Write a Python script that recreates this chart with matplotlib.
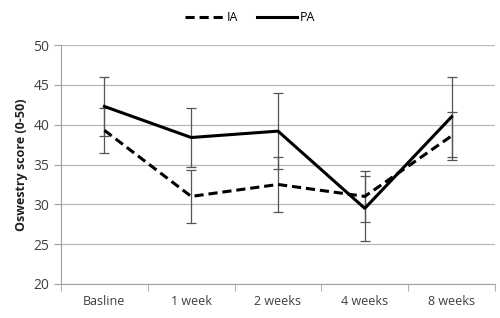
import matplotlib

matplotlib.use("Agg")
import matplotlib.pyplot as plt
import numpy as np

categories = ["Basline", "1 week", "2 weeks", "4 weeks", "8 weeks"]
ia_values = [39.3, 31.0, 32.5, 31.0, 38.6]
ia_errors = [2.8, 3.3, 3.5, 3.2, 3.0]
pa_values = [42.3, 38.4, 39.2, 29.5, 41.0]
pa_errors = [3.7, 3.7, 4.8, 4.1, 5.0]

plt.rcParams["font.family"] = ["Open Sans", "DejaVu Sans"]

positions = np.arange(len(categories))

figure = plt.figure(figsize=(5.0, 3.18), dpi=100)
axis = figure.add_axes([0.122, 0.107, 0.868, 0.751])

axis.errorbar(positions, ia_values, yerr=ia_errors, fmt="none",
              ecolor="#555555", elinewidth=0.9, capsize=3.5, capthick=0.9, zorder=2)
axis.errorbar(positions, pa_values, yerr=pa_errors, fmt="none",
              ecolor="#555555", elinewidth=0.9, capsize=3.5, capthick=0.9, zorder=2)
axis.plot(positions, ia_values, color="black", linestyle=(0, (3, 1.6)),
          linewidth=2.2, label="IA", zorder=3)
axis.plot(positions, pa_values, color="black", linewidth=2.2, label="PA", zorder=3)

axis.set_xlim(-0.5, len(categories) - 0.5)
axis.set_ylim(20, 50)
axis.set_yticks(range(20, 51, 5))
axis.set_xticks(positions)
axis.set_xticklabels(categories)
axis.set_xticks(np.arange(-0.5, len(categories), 1.0), minor=True)
axis.tick_params(axis="x", which="major", length=0, pad=8, labelsize=9, labelcolor="#404040")
axis.tick_params(axis="x", which="minor", length=5, color="#a0a0a0")
axis.tick_params(axis="y", length=5, color="#a0a0a0", labelsize=10, labelcolor="#404040")

axis.grid(axis="y", color="#b8b8b8", linewidth=0.9)
axis.set_axisbelow(True)
for side in ("top", "right"):
    axis.spines[side].set_visible(False)
for side in ("left", "bottom"):
    axis.spines[side].set_color("#a0a0a0")

axis.set_ylabel("Oswestry score (0-50)", fontsize=9, fontweight="bold", color="#202020")

figure.legend(loc="upper center", bbox_to_anchor=(0.5, 1.0), ncol=2, frameon=False,
              fontsize=9, handlelength=3.2, columnspacing=1.5, handletextpad=0.2)

figure.savefig("out.png", dpi=100)
plt.close(figure)
